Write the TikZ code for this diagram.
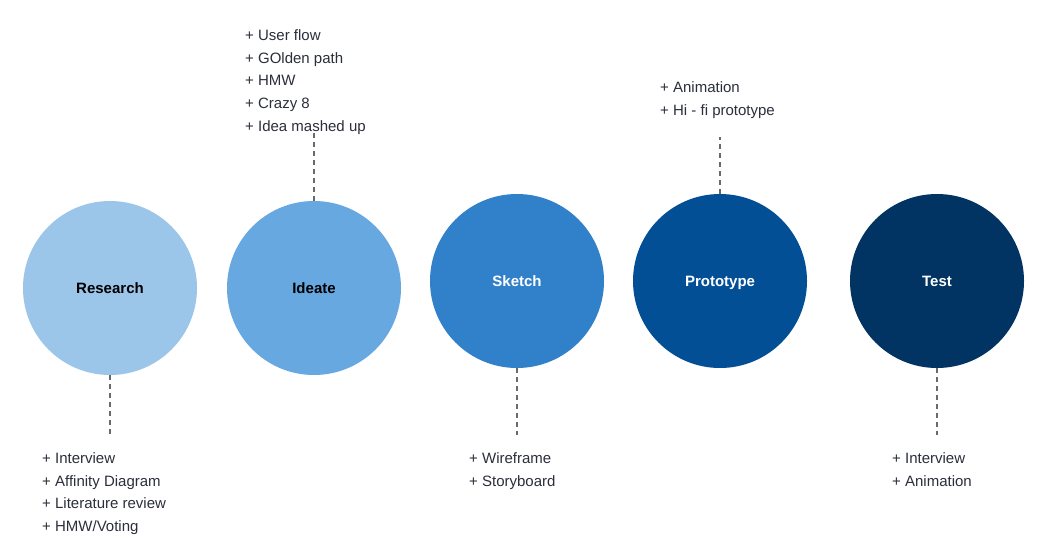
\documentclass[tikz,border=0pt]{standalone}
\usepackage{fontspec}
\setmainfont{Liberation Sans}
\definecolor{cResearch}{HTML}{9CC5EA}
\definecolor{cIdeate}{HTML}{66A8DF}
\definecolor{cSketch}{HTML}{3181CA}
\definecolor{cProto}{HTML}{034F96}
\definecolor{cTest}{HTML}{013462}
\definecolor{txt}{HTML}{2B2F3B}
\definecolor{dashc}{HTML}{6A6A6A}
\tikzset{
  phase/.style={circle, minimum size=174pt, inner sep=0pt, draw=none, text height=10.7pt, text depth=0pt, font=\fontsize{15}{18}\selectfont\bfseries},
  item/.style={anchor=base west, inner sep=0pt, text=txt, font=\fontsize{15}{18}\selectfont},
  conn/.style={draw=dashc, line width=1.3pt, dash pattern=on 5pt off 4pt}
}
\begin{document}
\begin{tikzpicture}[x=1pt,y=-1pt]
\useasboundingbox (0,0) rectangle (1059,554);
\fill[white] (0,0) rectangle (1059,554);

\node[phase, fill=cResearch, text=black] (research) at (110,288) {Research};
\node[phase, fill=cIdeate, text=black] (ideate) at (314,288) {Ideate};
\node[phase, fill=cSketch, text=white] (sketch) at (517,281) {Sketch};
\node[phase, fill=cProto, text=white] (proto) at (720,281) {Prototype};
\node[phase, fill=cTest, text=white] (test) at (937,281) {Test};

\coordinate (rEnd) at (110,435);
\coordinate (iEnd) at (314,131);
\coordinate (sEnd) at (517,435);
\coordinate (pEnd) at (720,137);
\coordinate (tEnd) at (937,435);

\draw[conn] (research.south) -- (rEnd);
\draw[conn] (ideate.north) -- (iEnd);
\draw[conn] (sketch.south) -- (sEnd);
\draw[conn] (proto.north) -- (pEnd);
\draw[conn] (test.south) -- (tEnd);

% Research items
\node[item] (r1) at (42,463.5) {+ Interview};
\node[item] (r2) at (42,486.2) {+ Affinity Diagram};
\node[item] (r3) at (42,508.9) {+ Literature review};
\node[item] (r4) at (42,531.6) {+ HMW/Voting};

% Ideate items
\node[item] (i1) at (245,40.5) {+ User flow};
\node[item] (i2) at (245,63.2) {+ GOlden path};
\node[item] (i3) at (245,85.9) {+ HMW};
\node[item] (i4) at (245,108.6) {+ Crazy 8};
\node[item] (i5) at (245,131.3) {+ Idea mashed up};

% Sketch items
\node[item] (s1) at (469,463.5) {+ Wireframe};
\node[item] (s2) at (469,486.2) {+ Storyboard};

% Prototype items
\node[item] (p1) at (660,92.5) {+ Animation};
\node[item] (p2) at (660,115.2) {+ Hi - fi prototype};

% Test items
\node[item] (t1) at (892,463.5) {+ Interview};
\node[item] (t2) at (892,486.2) {+ Animation};
\end{tikzpicture}
\end{document}
